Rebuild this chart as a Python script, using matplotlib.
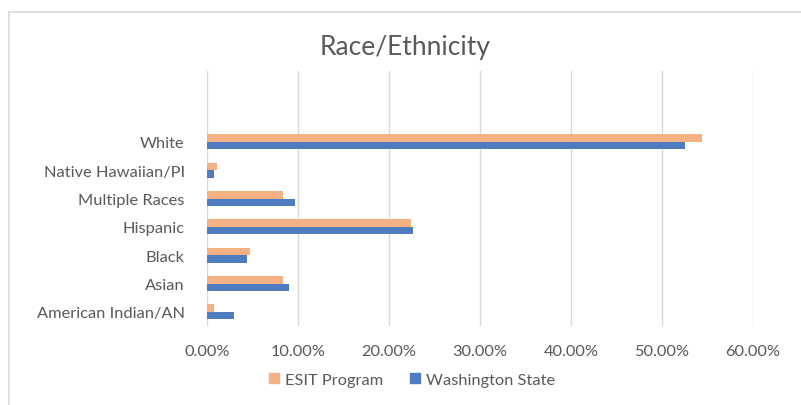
import numpy as np
import matplotlib
matplotlib.use("Agg")
import matplotlib.pyplot as plt
from matplotlib.lines import Line2D
from matplotlib.patches import Patch

plt.rcParams["font.family"] = ["Lato", "DejaVu Sans"]

# data (shares of population)
categories = ["American Indian/AN", "Asian", "Black", "Hispanic",
              "Multiple Races", "Native Hawaiian/PI", "White"]
esit_program = [0.008, 0.083, 0.047, 0.224, 0.083, 0.0115, 0.544]
washington_state = [0.030, 0.090, 0.044, 0.226, 0.097, 0.008, 0.525]
x_ticks = [0.0, 0.1, 0.2, 0.3, 0.4, 0.5, 0.6]

ORANGE = "#F4B183"
BLUE = "#4F7CC0"
TEXT = "#595959"
GRID = "#D9D9D9"

W, H = 801, 406
fig = plt.figure(figsize=(W / 100, H / 100), dpi=100)
fig.patch.set_facecolor("white")

# chart border (only top and left visible in the crop)
fig.add_artist(Line2D([9 / W, 9 / W], [0, 1 - 13 / H], transform=fig.transFigure,
                      color=GRID, lw=1.2))
fig.add_artist(Line2D([9 / W, 1], [1 - 13 / H, 1 - 13 / H], transform=fig.transFigure,
                      color=GRID, lw=1.2))

left, right = 207 / W, 753 / W
top, bottom = 1 - 72 / H, 1 - 327 / H
ax = fig.add_axes([left, bottom, right - left, top - bottom])

y = np.arange(len(categories))
bh = 0.27
ax.barh(y + bh / 2, esit_program, height=bh, color=ORANGE, label="ESIT Program")
ax.barh(y - bh / 2, washington_state, height=bh, color=BLUE, label="Washington State")

ax.set_xlim(0, 0.6)
ax.set_ylim(-0.5, 8.5)
ax.set_yticks(y)
ax.set_yticklabels(categories, fontsize=11.8, color=TEXT)
ax.set_xticks(x_ticks)
ax.set_xticklabels([f"{v * 100:.2f}%" for v in x_ticks], fontsize=11.8, color=TEXT)
ax.tick_params(axis="both", length=0)
ax.tick_params(axis="y", pad=16)
ax.tick_params(axis="x", pad=13)
ax.grid(axis="x", color=GRID, lw=1)
ax.set_axisbelow(True)
for s in ax.spines.values():
    s.set_visible(False)

fig.text(405 / W, 1 - 47 / H, "Race/Ethnicity", ha="center", va="center",
         fontsize=19, color=TEXT)

handles = [Patch(color=ORANGE, label="ESIT Program"),
           Patch(color=BLUE, label="Washington State")]
fig.legend(handles=handles, loc="center", bbox_to_anchor=(412 / W, 1 - 381 / H),
           ncol=2, frameon=False, fontsize=11.8, labelcolor=TEXT,
           handlelength=0.6, handleheight=0.6, handletextpad=0.4, columnspacing=1.6)

fig.savefig("out.png", dpi=100)
